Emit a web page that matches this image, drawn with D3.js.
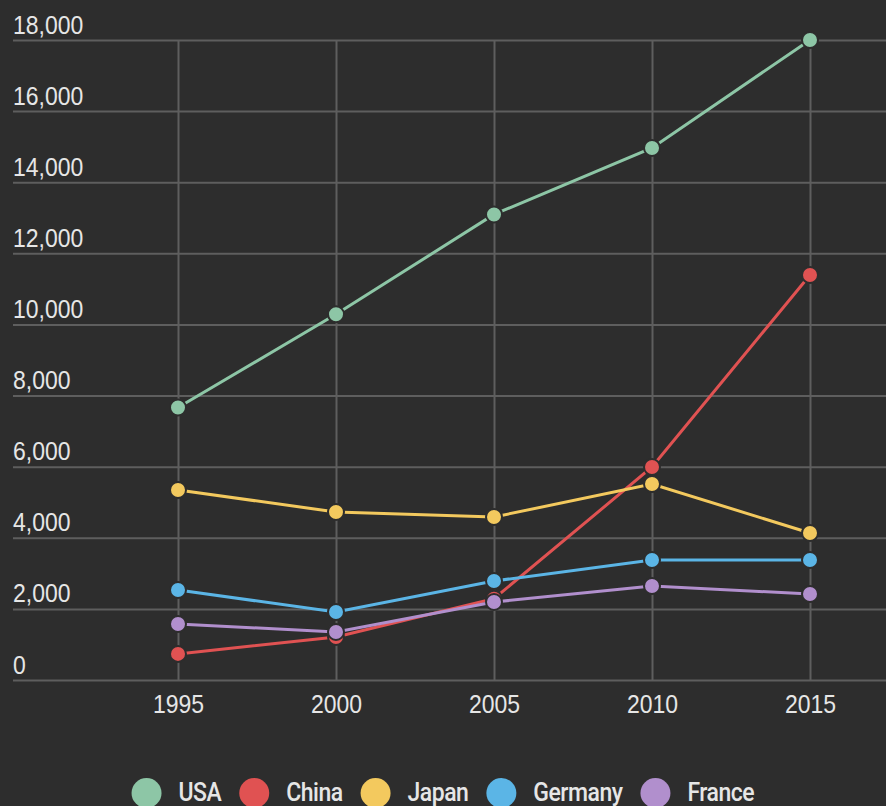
<!DOCTYPE html>
<html>
<head>
<meta charset="utf-8">
<script src="https://cdn.jsdelivr.net/npm/d3@7"></script>
<style>
  html, body { margin: 0; padding: 0; background: #2d2d2d; }
  svg { display: block; font-family: Roboto, "Noto Sans", sans-serif; }
</style>
</head>
<body>
<div id="chart"></div>
<script>
// chart data
const years = [1995, 2000, 2005, 2010, 2015];
const usa = [7664, 10285, 13094, 14964, 18000];
const china = [734, 1211, 2286, 5990, 11390];
const japan = [5343, 4725, 4584, 5512, 4134];
const germany = [2531, 1912, 2784, 3375, 3375];
const france = [1575, 1350, 2194, 2643, 2418];
const yTicks = [0, 2000, 4000, 6000, 8000, 10000, 12000, 14000, 16000, 18000];

const series = [
  { name: "USA", values: usa, color: "#8dc6a6" },
  { name: "China", values: china, color: "#e05252" },
  { name: "Japan", values: japan, color: "#f3c95e" },
  { name: "Germany", values: germany, color: "#5bb5e6" },
  { name: "France", values: france, color: "#b18fcd" }
];

const width = 886;
const height = 806;
const bg = "#2d2d2d";

var svg = d3.select("#chart")
  .append("svg")
  .attr("width", width)
  .attr("height", height);

svg.append("rect")
  .attr("width", width)
  .attr("height", height)
  .attr("fill", bg);

// scales
var x = d3.scalePoint()
  .domain(years)
  .range([178, 810]);

var y = d3.scaleLinear()
  .domain([0, 18000])
  .range([680, 40]);

// horizontal grid + y labels
var yAxis = svg.append("g")
  .attr("transform", "translate(13,0)")
  .call(d3.axisRight(y)
    .tickValues(yTicks)
    .tickSize(width - 13)
    .tickFormat(d3.format(",")));

yAxis.select(".domain").remove();
yAxis.selectAll(".tick line")
  .attr("stroke", "#5e5e5e")
  .attr("stroke-width", 2);
// labels sit above their grid line, a bit tall like the original
yAxis.selectAll(".tick text")
  .attr("x", 0)
  .attr("y", 0)
  .attr("dy", 0)
  .attr("transform", "translate(0,-7) scale(1,1.15)")
  .attr("text-anchor", "start")
  .attr("fill", "#e6e6e6")
  .attr("font-size", 23);

// vertical grid + x labels
var xAxis = svg.append("g")
  .attr("transform", "translate(0,680)")
  .call(d3.axisBottom(x).tickSize(-640).tickPadding(0));

xAxis.select(".domain").remove();
xAxis.selectAll(".tick line")
  .attr("stroke", "#5e5e5e")
  .attr("stroke-width", 2);
xAxis.selectAll(".tick text")
  .attr("y", 0)
  .attr("dy", 0)
  .attr("transform", "translate(0,33) scale(1,1.15)")
  .attr("fill", "#e6e6e6")
  .attr("font-size", 23);

// lines and markers
var line = d3.line()
  .x(function (d, i) { return x(years[i]); })
  .y(function (d) { return y(d); });

series.forEach(function (s) {
  var g = svg.append("g").attr("class", "series");
  g.append("path")
    .datum(s.values)
    .attr("d", line)
    .attr("fill", "none")
    .attr("stroke", s.color)
    .attr("stroke-width", 3);
  g.selectAll("circle")
    .data(s.values)
    .join("circle")
    .attr("cx", function (d, i) { return x(years[i]); })
    .attr("cy", function (d) { return y(d); })
    .attr("r", 8)
    .attr("fill", s.color)
    .attr("stroke", bg)
    .attr("stroke-width", 2);
});

// legend, centred at the bottom
var legend = svg.append("g").attr("class", "legend");
var pos = 0;
series.forEach(function (s, i) {
  var item = legend.append("g");
  item.append("circle")
    .attr("cx", pos)
    .attr("cy", 793)
    .attr("r", 15)
    .attr("fill", s.color);
  var t = item.append("text")
    .attr("transform", "translate(" + (pos + 32) + ",801) scale(1,1.12)")
    .attr("fill", "#e6e6e6")
    .attr("font-size", 23)
    .attr("font-weight", 500)
    .attr("letter-spacing", -0.5)
    .text(s.name);
  pos = pos + 32 + t.node().getComputedTextLength() + 33;
});
var lb = legend.node().getBBox();
legend.attr("transform", "translate(" + (width / 2 - (lb.x + lb.width / 2)) + ",0)");
</script>
</body>
</html>
